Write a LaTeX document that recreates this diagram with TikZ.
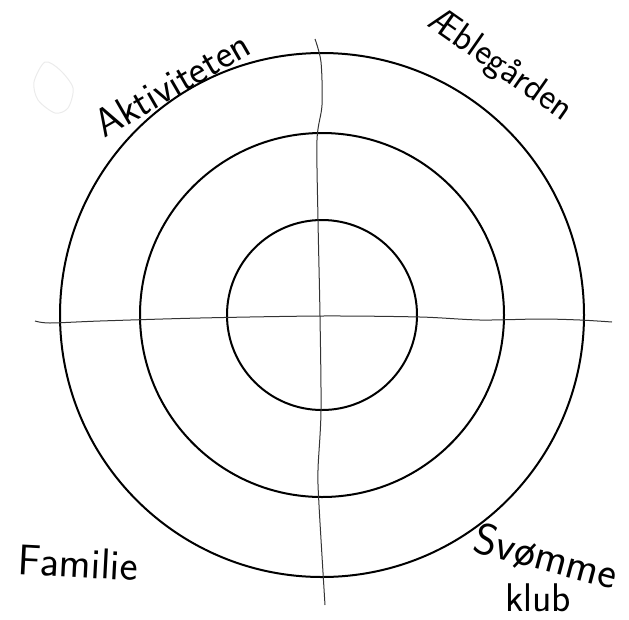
\documentclass[tikz,border=0pt]{standalone}
\usepackage{tikz}
\usetikzlibrary{calc}

\begin{document}
\begin{tikzpicture}[x=1pt,y=-1pt,
    ring/.style={line width=2pt},
    axis/.style={line width=1pt,black!80},
    hand/.style={font=\sffamily\fontsize{#1}{#1}\selectfont,inner sep=0pt}]
      \useasboundingbox (0,0) rectangle (629,619);
      \coordinate (c) at (322,315);
      \foreach \r in {95,182,262}
        \draw[ring] (c) circle (\r);
      % wobbly cross
      \draw[axis] plot[smooth] coordinates {(315,39) (321,62) (322,105) (317,140) (318,220) (320,316) (321,411) (318,470) (319,505) (325,605)};
      \draw[axis] plot[smooth] coordinates {(35,321) (50,323) (100,321) (200,318) (322,316) (420,317) (480,320) (540,319) (580,320) (612,322)};
      % faint smudge
      \draw[black!8,line width=1pt] plot[smooth cycle] coordinates {(45,62) (60,70) (73,88) (68,108) (55,113) (38,100) (34,82)};
      \node[hand=40,rotate=30] (akt) at (172,84) {Aktiviteten};
      \node[hand=37,rotate=-35] (aeb) at (500,66) {Æblegården};
      \node[hand=43,rotate=-3] (fam) at (78,563) {Familie};
      \node[hand=44,rotate=-15] (svo) at (546,558) {Svømme};
      \node[hand=40] (klub) at (538,598) {klub};
    \end{tikzpicture}
\end{document}
